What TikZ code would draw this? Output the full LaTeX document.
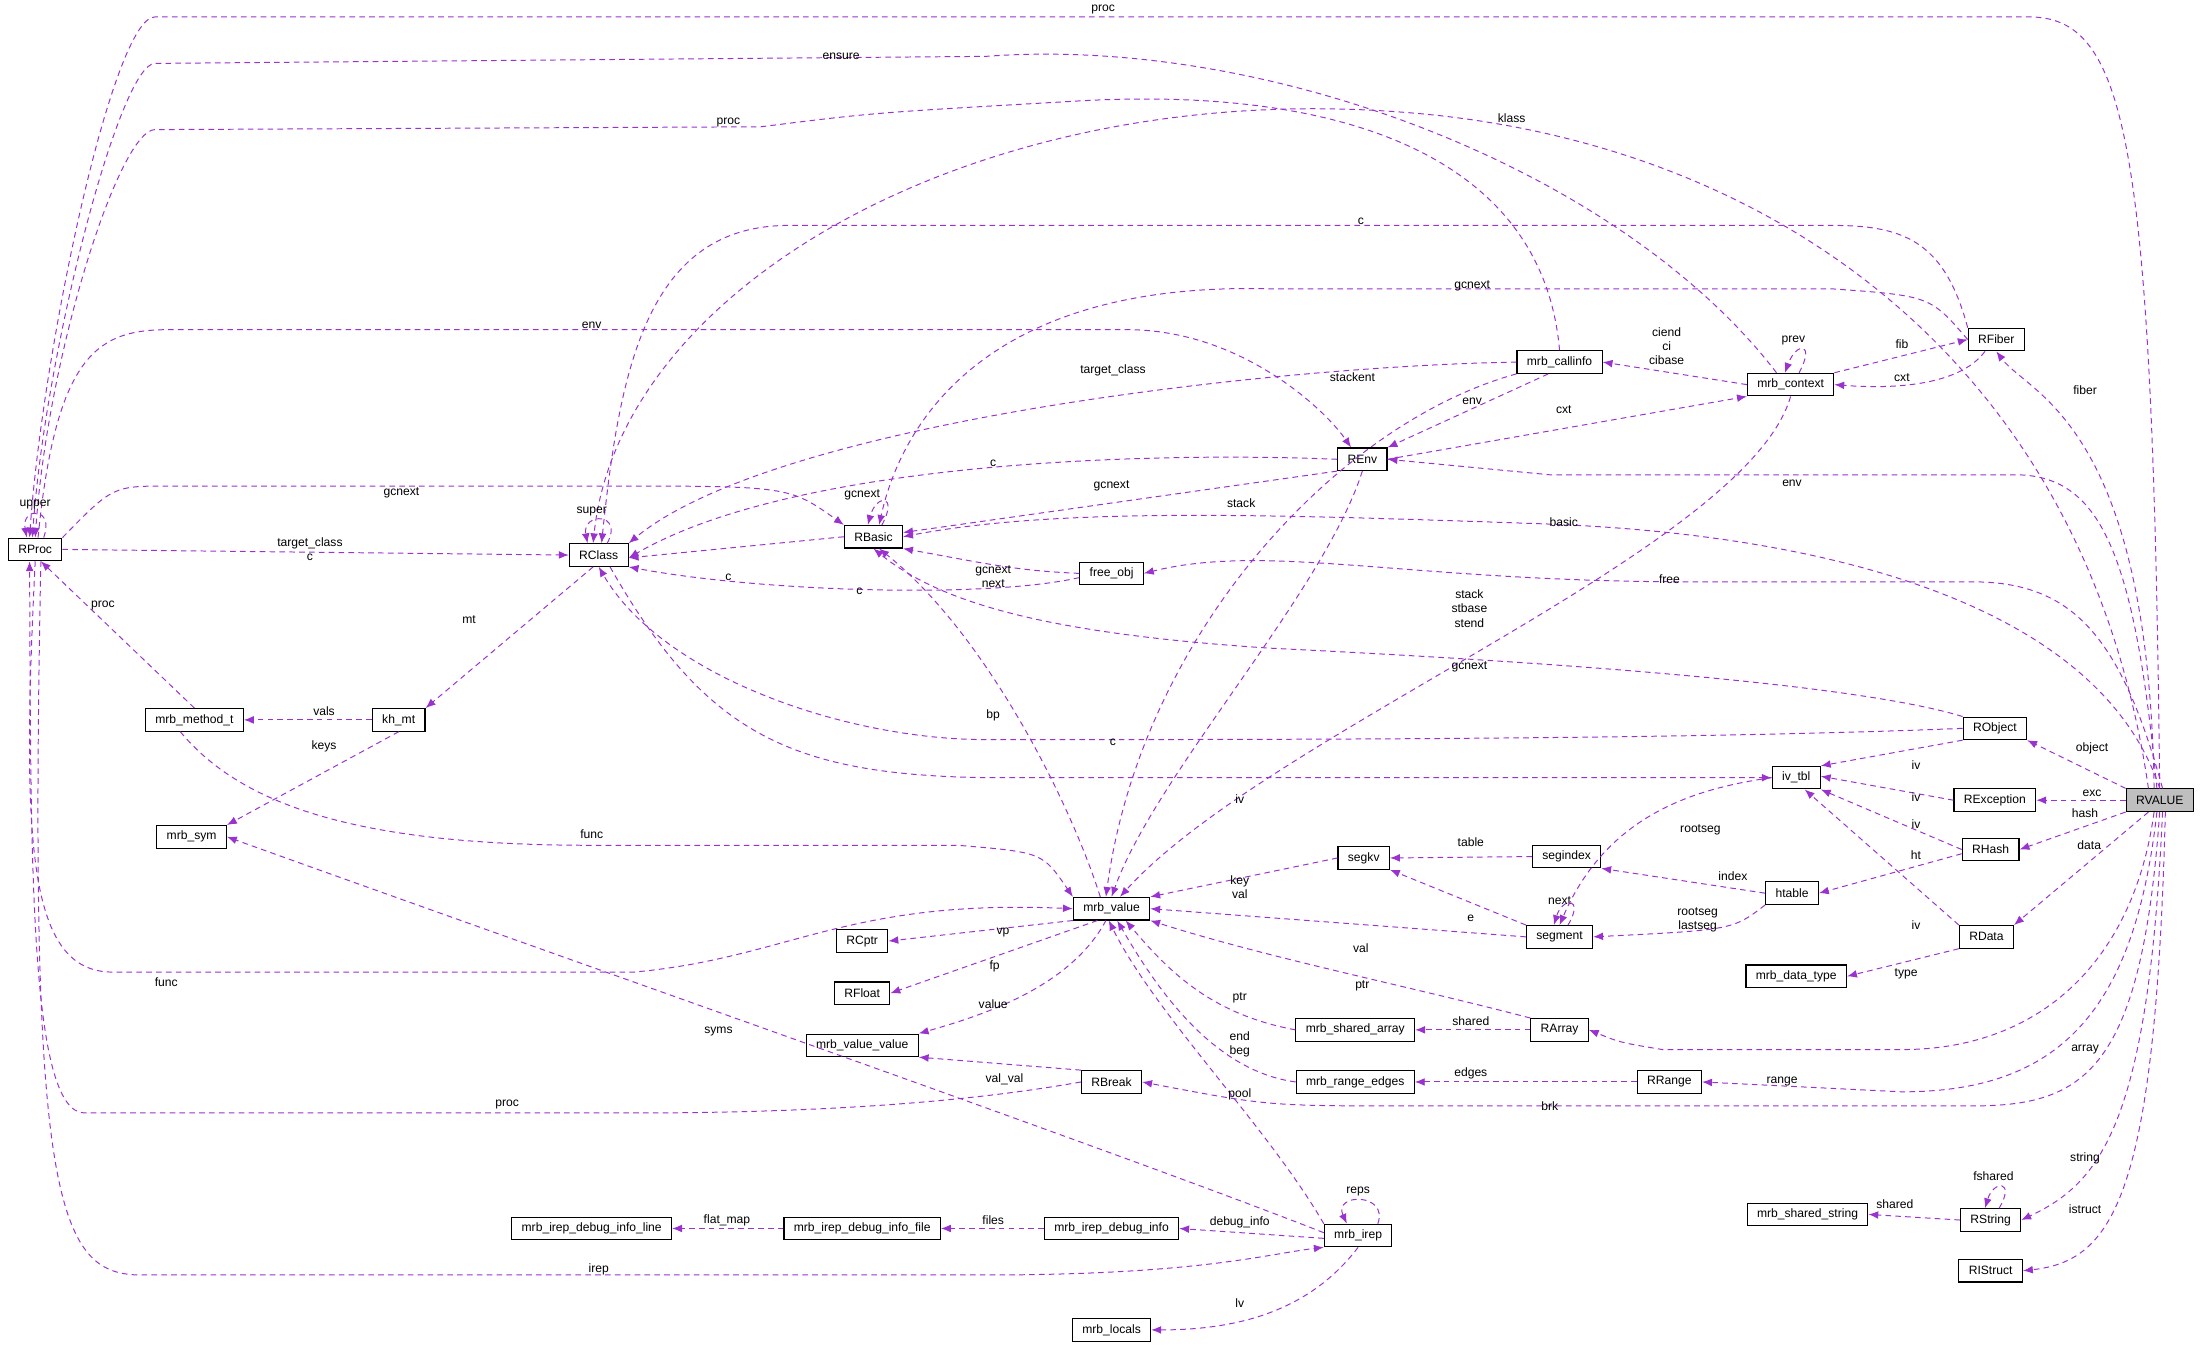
\documentclass[tikz,border=0pt]{standalone}
\usepackage{fontspec}
\setmainfont{Liberation Sans}
\usetikzlibrary{arrows.meta}
\definecolor{ec}{RGB}{154,50,205}
\definecolor{gr}{RGB}{191,191,191}
\begin{document}
\begin{tikzpicture}[x=1pt,y=-1pt,
  box/.style={draw=black,fill=white,font=\fontsize{8.6}{10}\selectfont,inner xsep=7pt,inner ysep=0pt,minimum height=16pt,line width=0.8pt},
  e/.style={draw=ec,dash pattern=on 4pt off 3pt,-{Latex[length=7pt,width=5.5pt]},line width=0.7pt},
  lbl/.style={font=\fontsize{8.6}{10}\selectfont,inner sep=1pt,align=center,text=black}]
\useasboundingbox (0,0) rectangle (1568,960);
% nodes
\node[box] (RProc) at (25,390) {RProc};
\node[box] (RClass) at (425,394) {RClass};
\node[box] (RBasic) at (620,381) {RBasic};
\node[box] (free) at (789,407) {free\_obj};
\node[box] (REnv) at (967,326) {REnv};
\node[box] (ci) at (1107,257) {mrb\_callinfo};
\node[box] (ctx) at (1271,273) {mrb\_context};
\node[box] (RFiber) at (1417,241) {RFiber};
\node[box] (RObject) at (1416,517) {RObject};
\node[box] (ivtbl) at (1275,552) {iv\_tbl};
\node[box] (RExc) at (1416,568) {RException};
\node[box] (RHash) at (1413,603) {RHash};
\node[box] (RData) at (1410,665) {RData};
\node[box] (dtype) at (1275,693) {mrb\_data\_type};
\node[box,fill=gr] (RVALUE) at (1533,568) {RVALUE};
\node[box] (segindex) at (1112,608) {segindex};
\node[box] (htable) at (1272,634) {htable};
\node[box] (segkv) at (968,609) {segkv};
\node[box] (segment) at (1107,665) {segment};
\node[box] (mv) at (789,645) {mrb\_value};
\node[box] (RCptr) at (612,668) {RCptr};
\node[box] (RFloat) at (612,705) {RFloat};
\node[box] (mvv) at (612,742) {mrb\_value\_value};
\node[box] (RBreak) at (789,768) {RBreak};
\node[box] (sarr) at (962,731) {mrb\_shared\_array};
\node[box] (redges) at (962,768) {mrb\_range\_edges};
\node[box] (RArray) at (1107,731) {RArray};
\node[box] (RRange) at (1185,768) {RRange};
\node[box] (RString) at (1413,866) {RString};
\node[box] (sstr) at (1283,862) {mrb\_shared\_string};
\node[box] (RIStruct) at (1413,902) {RIStruct};
\node[box] (mmt) at (138,511) {mrb\_method\_t};
\node[box] (khmt) at (283,511) {kh\_mt};
\node[box] (msym) at (136,594) {mrb\_sym};
\node[box] (dline) at (420,872) {mrb\_irep\_debug\_info\_line};
\node[box] (dfile) at (612,872) {mrb\_irep\_debug\_info\_file};
\node[box] (dinfo) at (789,872) {mrb\_irep\_debug\_info};
\node[box] (irep) at (964,877) {mrb\_irep};
\node[box] (locals) at (789,944) {mrb\_locals};
% long top edges
\draw[e] (RVALUE.north) .. controls (1528,100) and (1510,12) .. (1440,12) -- (110,12) .. controls (80,12) and (30,250) .. ([xshift=-4pt]RProc.north) node[lbl,at={(783,7)}]{proc};
\draw[e] ([xshift=-10pt]ctx.north) .. controls (1150,120) and (900,25) .. (700,40) -- (110,45) .. controls (85,45) and (32,250) .. ([xshift=-2pt]RProc.north) node[lbl,at={(597,40)}]{ensure};
\draw[e] (ci.north) .. controls (1095,110) and (950,60) .. (760,72) .. controls (620,80) .. (540,90) -- (110,92) .. controls (85,92) and (34,250) .. (RProc.north) node[lbl,at={(517,87)}]{proc};
\draw[e] ([xshift=-8pt]RVALUE.north) .. controls (1480,250) and (1250,100) .. (1000,80) .. controls (700,55) and (440,200) .. ([xshift=-4pt]RClass.north) node[lbl,at={(1073,84)}]{klass};
\draw[e] (RFiber.north west) .. controls (1380,170) and (1350,160) .. (1300,160) -- (560,160) .. controls (460,160) and (440,260) .. ([xshift=2pt]RClass.north) node[lbl,at={(966,157)}]{c};
\draw[e] (RFiber.west) .. controls (1370,210) .. (1300,205) -- (900,205) .. controls (700,200) and (640,300) .. ([xshift=4pt]RBasic.north) node[lbl,at={(1045,203)}]{gcnext};
\draw[e] ([xshift=2pt]RProc.north) .. controls (40,250) and (70,234) .. (120,234) -- (800,234) .. controls (880,234) and (940,290) .. ([xshift=-8pt]REnv.north) node[lbl,at={(420,231)}]{env};
% callinfo / context / fiber / env
\draw[e] (ci.west) .. controls (900,260) and (550,300) .. (RClass.north east) node[lbl,at={(790,263)}]{target\_class};
\draw[e] (ci.south west) .. controls (950,300) and (810,450) .. ([xshift=-4pt]mv.north) node[lbl,at={(960,268)}]{stackent};
\draw[e] ([xshift=-8pt]ci.south) -- (REnv.north east) node[lbl,at={(1045,285)}]{env};
\draw[e] (REnv.east) -- (ctx.south west) node[lbl,at={(1110,291)}]{cxt};
\draw[e] (ctx.west) -- (ci.east) node[lbl,at={(1183,246)}]{ciend\\ci\\cibase};
\draw[e] ([xshift=6pt]ctx.north) .. controls +(12,-22) and +(8,-22) .. ([xshift=-4pt]ctx.north) node[lbl,at={(1273,242)}]{prev};
\draw[e] (ctx.north east) -- (RFiber.west) node[lbl,at={(1350,244)}]{fib};
\draw[e] ([xshift=-8pt]RFiber.south) .. controls (1390,275) and (1340,276) .. (ctx.east) node[lbl,at={(1350,268)}]{cxt};
\draw[e] (ctx.south) .. controls (1240,390) and (900,520) .. ([xshift=6pt]mv.north) node[lbl,at={(1043,432)}]{stack\\stbase\\stend};
\draw[e] (REnv.west) .. controls (800,320) and (560,330) .. ([yshift=-2pt]RClass.east) node[lbl,at={(705,329)}]{c};
\draw[e] (REnv.south west) -- ([yshift=3pt]RBasic.east) node[lbl,at={(789,345)}]{gcnext};
\draw[e] (REnv.south) .. controls (940,420) and (820,550) .. (mv.north) node[lbl,at={(881,357)}]{stack};
% RVALUE fan
\draw[e] ([xshift=-4pt]RVALUE.north) .. controls (1525,300) and (1440,280) .. (RFiber.south) node[lbl,at={(1480,277)}]{fiber};
\draw[e] ([xshift=-2pt]RVALUE.north) .. controls (1515,390) and (1490,337) .. (1430,337) -- (1100,337) -- (REnv.east) node[lbl,at={(1272,343)}]{env};
\draw[e] ([xshift=0pt]RVALUE.north) .. controls (1490,430) and (1300,380) .. (1100,372) .. controls (900,365) and (750,360) .. (RBasic.east) node[lbl,at={(1110,371)}]{basic};
\draw[e] ([xshift=2pt]RVALUE.north) .. controls (1505,450) and (1470,413) .. (1400,413) -- (1200,413) .. controls (1000,413) and (900,385) .. (free.east) node[lbl,at={(1185,411)}]{free};
\draw[e] (RVALUE.north west) -- (RObject.south east) node[lbl,at={(1485,531)}]{object};
\draw[e] (RVALUE.west) -- (RExc.east) node[lbl,at={(1485,563)}]{exc};
\draw[e] (RVALUE.south west) -- (RHash.east) node[lbl,at={(1480,577)}]{hash};
\draw[e] ([xshift=-8pt]RVALUE.south) -- (RData.north east) node[lbl,at={(1483,600)}]{data};
\draw[e] ([xshift=-4pt]RVALUE.south) .. controls (1515,680) and (1450,745) .. (1350,745) -- (1180,745) .. controls (1150,740) .. (RArray.east) node[lbl,at={(1480,745)}]{array};
\draw[e] ([xshift=-2pt]RVALUE.south) .. controls (1515,720) and (1460,775) .. (1350,775) -- (RRange.east) node[lbl,at={(1265,768)}]{range};
\draw[e] (RVALUE.south) .. controls (1520,760) and (1480,785) .. (1400,785) -- (1000,785) .. controls (900,785) .. (RBreak.east) node[lbl,at={(1100,785)}]{brk};
\draw[e] ([xshift=2pt]RVALUE.south) .. controls (1525,800) and (1490,840) .. (RString.east) node[lbl,at={(1480,822)}]{string};
\draw[e] ([xshift=4pt]RVALUE.south) .. controls (1530,850) and (1500,895) .. (RIStruct.east) node[lbl,at={(1480,858)}]{istruct};
% free_obj, RBasic, RClass, RProc
\draw[e] (free.west) .. controls (720,405) and (700,400) .. (RBasic.south east) node[lbl,at={(705,409)}]{gcnext\\next};
\draw[e] ([yshift=-3pt]free.west) .. controls (700,425) and (540,420) .. (RClass.south east) node[lbl,at={(610,420)}]{c};
\draw[e] ([xshift=6pt]RBasic.north) .. controls +(12,-22) and +(6,-22) .. ([xshift=-4pt]RBasic.north) node[lbl,at={(612,351)}]{gcnext};
\draw[e] (RBasic.west) -- ([yshift=-2pt]RClass.east) node[lbl,at={(517,410)}]{c};
\draw[e] ([xshift=6pt]RClass.north) .. controls +(12,-22) and +(-4,-22) .. ([xshift=-8pt]RClass.north) node[lbl,at={(420,363)}]{super};
\draw[e] ([xshift=6pt]RProc.north) .. controls +(8,-22) and +(-4,-22) .. ([xshift=-6pt]RProc.north) node[lbl,at={(25,358)}]{upper};
\draw[e] (RProc.north east) .. controls (80,345) .. (120,345) -- (430,345) .. controls (560,345) .. (RBasic.north west) node[lbl,at={(285,350)}]{gcnext};
\draw[e] (RProc.east) -- (RClass.west) node[lbl,at={(220,390)}]{target\_class\\c};
% RObject etc
\draw[e] (RObject.north west) .. controls (1300,480) and (1000,465) .. (900,460) .. controls (750,450) and (670,430) .. (RBasic.south) node[lbl,at={(1043,473)}]{gcnext};
\draw[e] (RObject.west) .. controls (1200,525) and (900,525) .. (700,525) .. controls (600,525) and (470,480) .. (RClass.south) node[lbl,at={(790,527)}]{c};
\draw[e] (RObject.south west) -- (ivtbl.north east) node[lbl,at={(1360,543)}]{iv};
\draw[e] (RExc.west) -- ([yshift=1pt]ivtbl.east) node[lbl,at={(1360,566)}]{iv};
\draw[e] (RHash.west) -- (ivtbl.south east) node[lbl,at={(1360,585)}]{iv};
\draw[e] ([yshift=-3pt]RHash.west) -- (htable.east) node[lbl,at={(1360,607)}]{ht};
\draw[e] (RData.north west) -- ([xshift=6pt]ivtbl.south) node[lbl,at={(1360,657)}]{iv};
\draw[e] (RData.south west) -- (dtype.east) node[lbl,at={(1353,691)}]{type};
\draw[e] ([xshift=8pt]RClass.south) .. controls (500,520) and (560,550) .. (700,552) -- (ivtbl.west) node[lbl,at={(880,567)}]{iv};
\draw[e] ([xshift=-4pt]RClass.south) -- (khmt.north east) node[lbl,at={(333,440)}]{mt};
\draw[e] (mmt.north) -- ([xshift=4pt]RProc.south) node[lbl,at={(73,430)}]{proc};
\draw[e] (khmt.west) -- (mmt.east) node[lbl,at={(230,505)}]{vals};
\draw[e] (khmt.south) -- (msym.north east) node[lbl,at={(230,530)}]{keys};
\draw[e] ([xshift=-10pt]mmt.south) .. controls (170,570) and (250,600) .. (420,600) -- (680,600) .. controls (740,605) .. (mv.north west) node[lbl,at={(420,592)}]{func};
\draw[e] (RProc.south) .. controls (15,600) and (20,690) .. (80,690) -- (450,690) .. controls (560,680) and (600,638) .. (mv.west) node[lbl,at={(118,697)}]{func};
% mrb_value
\draw[e] ([xshift=-8pt]mv.north) .. controls (760,570) and (700,450) .. ([xshift=4pt]RBasic.south) node[lbl,at={(705,508)}]{bp};
\draw[e] (mv.south west) -- (RCptr.east) node[lbl,at={(712,662)}]{vp};
\draw[e] ([xshift=-10pt]mv.south) -- (RFloat.east) node[lbl,at={(706,686)}]{fp};
\draw[e] ([xshift=-4pt]mv.south) .. controls (760,700) and (700,720) .. (mvv.north east) node[lbl,at={(705,713)}]{value};
\draw[e] (segkv.west) -- (mv.north east) node[lbl,at={(880,630)}]{key\\val};
\draw[e] (segindex.west) -- (segkv.east) node[lbl,at={(1044,598)}]{table};
\draw[e] (segment.north west) -- (segkv.south east) node[lbl,at={(1044,652)}]{e};
\draw[e] ([xshift=6pt]segment.north) .. controls +(12,-20) and +(6,-20) .. ([xshift=-4pt]segment.north) node[lbl,at={(1107,639)}]{next};
\draw[e] (segment.west) -- (mv.east) node[lbl,at={(966,673)}]{val};
\draw[e] (ivtbl.west) .. controls (1200,560) and (1140,580) .. (segment.north) node[lbl,at={(1207,589)}]{rootseg};
\draw[e] (htable.west) -- (segindex.south east) node[lbl,at={(1230,622)}]{index};
\draw[e] (htable.south west) .. controls (1230,660) .. (segment.east) node[lbl,at={(1205,653)}]{rootseg\\lastseg};
\draw[e] (RArray.north west) .. controls (1000,700) and (900,680) .. (mv.south east) node[lbl,at={(967,700)}]{ptr};
\draw[e] (RArray.west) -- (sarr.east) node[lbl,at={(1044,725)}]{shared};
\draw[e] (sarr.west) .. controls (860,720) and (830,690) .. ([xshift=10pt]mv.south) node[lbl,at={(880,708)}]{ptr};
\draw[e] (RRange.west) -- (redges.east) node[lbl,at={(1044,762)}]{edges};
\draw[e] (redges.west) .. controls (860,760) and (820,700) .. ([xshift=4pt]mv.south) node[lbl,at={(880,741)}]{end\\beg};
\draw[e] (RBreak.north west) -- (mvv.south east) node[lbl,at={(713,766)}]{val\_val};
\draw[e] (RBreak.west) .. controls (700,780) and (600,790) .. (450,790) -- (60,790) .. controls (20,790) and (22,600) .. ([xshift=-4pt]RProc.south) node[lbl,at={(360,784)}]{proc};
% irep
\draw[e] (irep.north west) .. controls (900,800) and (820,720) .. ([xshift=-2pt]mv.south) node[lbl,at={(880,777)}]{pool};
\draw[e] ([yshift=2pt]irep.west) .. controls (800,820) and (400,680) .. (msym.east) node[lbl,at={(510,732)}]{syms};
\draw[e] ([xshift=14pt]irep.north) .. controls +(8,-22) and +(-10,-22) .. ([xshift=-8pt]irep.north) node[lbl,at={(964,846)}]{reps};
\draw[e] ([yshift=-2pt]irep.west) -- (dinfo.east) node[lbl,at={(880,868)}]{debug\_info};
\draw[e] (dinfo.west) -- (dfile.east) node[lbl,at={(705,866)}]{files};
\draw[e] (dfile.west) -- (dline.east) node[lbl,at={(516,866)}]{flat\_map};
\draw[e] (irep.south) .. controls (930,930) and (880,944) .. (locals.east) node[lbl,at={(880,925)}]{lv};
\draw[e] ([xshift=4pt]RProc.south) .. controls (20,850) and (40,905) .. (100,905) -- (700,905) .. controls (850,905) and (900,890) .. (irep.south west) node[lbl,at={(425,901)}]{irep};
\draw[e] (RString.west) -- (sstr.east) node[lbl,at={(1345,855)}]{shared};
\draw[e] ([xshift=6pt]RString.north) .. controls +(12,-20) and +(6,-20) .. ([xshift=-4pt]RString.north) node[lbl,at={(1415,835)}]{fshared};
\end{tikzpicture}
\end{document}
